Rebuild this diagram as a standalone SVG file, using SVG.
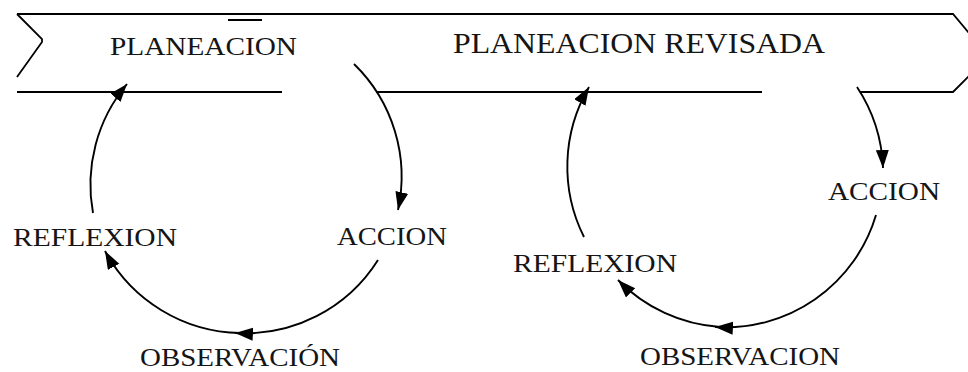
<svg xmlns="http://www.w3.org/2000/svg" width="968" height="372" viewBox="0 0 968 372">
<style>
.lbl{font-family:"Liberation Serif","Times New Roman",serif;fill:#151515;font-size:26px}
.big{font-size:30px}
.ln{fill:none;stroke:#000;stroke-width:1.8}
.arc{fill:none;stroke:#000;stroke-width:1.9}
.arw{marker-end:url(#ah)}
</style>
<defs>
<marker id="ah" markerUnits="userSpaceOnUse" markerWidth="20" markerHeight="14" refX="18" refY="6.5" orient="auto">
<path d="M0,0 L18,6.5 L0,13 Z" fill="#000"/>
</marker>
</defs>
<rect width="968" height="372" fill="#fff"/>
<g id="banner">
<path class="ln" d="M17,14 L953,14 L969,33"/>
<path class="ln" d="M17,14 L42,39 L42,42 L17,77"/>
<path class="ln" d="M17,92 L282,92"/>
<path class="ln" d="M376,92 L762,92"/>
<path class="ln" d="M860,92 L953,92 L969,76"/>
<path class="ln" d="M228,20 L262,20" stroke-width="1.4"/>
</g>
<g id="node-planeacion"><text class="lbl" x="110" y="55" textLength="187" lengthAdjust="spacingAndGlyphs">PLANEACION</text></g>
<g id="node-planeacion-revisada"><text class="lbl big" x="453" y="53" textLength="372" lengthAdjust="spacingAndGlyphs">PLANEACION REVISADA</text></g>
<g id="node-accion-1"><text class="lbl" x="337" y="245" textLength="110" lengthAdjust="spacingAndGlyphs">ACCION</text></g>
<g id="node-reflexion-1"><text class="lbl" x="13" y="246" textLength="164" lengthAdjust="spacingAndGlyphs">REFLEXION</text></g>
<g id="node-observacion-1"><text class="lbl" x="140" y="366" textLength="200" lengthAdjust="spacingAndGlyphs">OBSERVACIÓN</text></g>
<g id="node-accion-2"><text class="lbl" x="828" y="200" textLength="112" lengthAdjust="spacingAndGlyphs">ACCION</text></g>
<g id="node-reflexion-2"><text class="lbl" x="513" y="272" textLength="164" lengthAdjust="spacingAndGlyphs">REFLEXION</text></g>
<g id="node-observacion-2"><text class="lbl" x="640" y="365" textLength="200" lengthAdjust="spacingAndGlyphs">OBSERVACION</text></g>
<g id="connectors">
<path class="arc arw" d="M354,64 A157,157 0 0 1 398,210"/>
<path class="arc arw" d="M378,260 A157,157 0 0 1 235,333"/>
<path class="arc arw" d="M240,333 A157,157 0 0 1 105,251"/>
<path class="arc arw" d="M93,213 A157,157 0 0 1 127,84"/>
<path class="arc arw" d="M857,87 A157,157 0 0 1 883,168"/>
<path class="arc arw" d="M876,215 A157,157 0 0 1 715,327"/>
<path class="arc arw" d="M720,327 A157,157 0 0 1 618,280"/>
<path class="arc arw" d="M584,237 A157,157 0 0 1 589,87"/>
</g>
</svg>
